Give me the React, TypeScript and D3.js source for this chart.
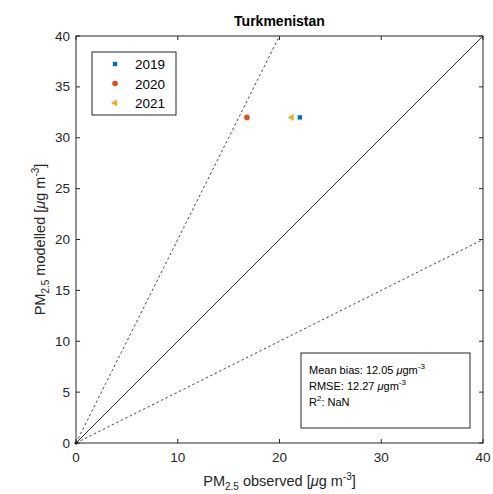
import React from "react";
import * as d3 from "d3";

const years = ["2019", "2020", "2021"];
const observed = [22.0, 16.8, 21.2];
const modelled = [32.0, 32.0, 32.0];
const colors = ["#0072BD", "#D95319", "#EDB120"];
const xTicks = [0, 10, 20, 30, 40];
const yTicks = [0, 5, 10, 15, 20, 25, 30, 35, 40];
const stats = { bias: "12.05", rmse: "12.27", r2: "NaN" };

const W = 493;
const H = 494;
const m = { left: 76, top: 36, right: 10, bottom: 51 };
const font = "Liberation Sans, Arial, sans-serif";

const App = () => {
  const x = d3.scaleLinear().domain([0, 40]).range([m.left, W - m.right]);
  const y = d3.scaleLinear().domain([0, 40]).range([H - m.bottom, m.top]);
  const line = d3.line<[number, number]>().x((d) => x(d[0])).y((d) => y(d[1]));
  const tri = d3.symbol().type(d3.symbolTriangle).size(22)();

  const marker = (i: number, cx: number, cy: number) => {
    if (i === 0) return <rect x={cx - 2.2} y={cy - 2.2} width={4.4} height={4.4} fill={colors[i]} />;
    if (i === 1) return <circle cx={cx} cy={cy} r={2.8} fill={colors[i]} />;
    return <path d={tri || ""} transform={`translate(${cx},${cy}) rotate(-90)`} fill={colors[i]} />;
  };

  const x0 = x(0), x1 = x(40), y0 = y(0), y1 = y(40);

  return (
    <svg width={W} height={H} style={{ position: "absolute", left: 0, top: 0 }} fontFamily={font}>
      <rect x={0} y={0} width={W} height={H} fill="#fff" />
      <path d={line([[0, 0], [20, 40]]) || ""} stroke="#444" strokeDasharray="2.5,2.5" fill="none" />
      <path d={line([[0, 0], [40, 20]]) || ""} stroke="#444" strokeDasharray="2.5,2.5" fill="none" />
      <path d={line([[0, 0], [40, 40]]) || ""} stroke="#333" fill="none" />
      <circle cx={x0} cy={y0} r={1.5} fill="#000" />
      {observed.map((o, i) => (
        <g key={years[i]}>{marker(i, x(o), y(modelled[i]))}</g>
      ))}
      <rect x={x0} y={y1} width={x1 - x0} height={y0 - y1} fill="none" stroke="#262626" strokeWidth={1} />
      {xTicks.map((t) => (
        <g key={"x" + t}>
          <line x1={x(t)} x2={x(t)} y1={y0} y2={y0 - 4} stroke="#262626" />
          <line x1={x(t)} x2={x(t)} y1={y1} y2={y1 + 4} stroke="#262626" />
          <text x={x(t)} y={y0 + 19} textAnchor="middle" fontSize={13.5} fill="#262626">{t}</text>
        </g>
      ))}
      {yTicks.map((t) => (
        <g key={"y" + t}>
          <line x1={x0} x2={x0 + 4} y1={y(t)} y2={y(t)} stroke="#262626" />
          <line x1={x1} x2={x1 - 4} y1={y(t)} y2={y(t)} stroke="#262626" />
          <text x={x0 - 6} y={y(t) + 4.5} textAnchor="end" fontSize={13.5} fill="#262626">{t}</text>
        </g>
      ))}
      <text x={(x0 + x1) / 2} y={26} textAnchor="middle" fontSize={14} fontWeight="bold" fill="#000">Turkmenistan</text>
      <text x={(x0 + x1) / 2} y={486} textAnchor="middle" fontSize={14.5} fill="#262626">
        PM<tspan fontSize={10} dy={4}>2.5</tspan><tspan dy={-4}> observed [</tspan><tspan fontStyle="italic">μ</tspan>g m<tspan fontSize={10} dy={-6}>-3</tspan><tspan dy={6}>]</tspan>
      </text>
      <text transform={`translate(45,${(y0 + y1) / 2}) rotate(-90)`} textAnchor="middle" fontSize={14.5} fill="#262626">
        PM<tspan fontSize={10} dy={4}>2.5</tspan><tspan dy={-4}> modelled [</tspan><tspan fontStyle="italic">μ</tspan>g m<tspan fontSize={10} dy={-6}>-3</tspan><tspan dy={6}>]</tspan>
      </text>
      <rect x={92} y={52} width={84} height={63} fill="#fff" stroke="#262626" />
      {years.map((yr, i) => (
        <g key={"l" + yr}>
          {marker(i, 115, 64 + i * 19.5)}
          <text x={135} y={69 + i * 19.5} fontSize={13.5} fill="#000">{yr}</text>
        </g>
      ))}
      <rect x={301} y={353} width={169} height={75} fill="#fff" stroke="#262626" />
      <text x={309} y={374} fontSize={11} fill="#000">
        Mean bias: {stats.bias} <tspan fontStyle="italic">μ</tspan>gm<tspan fontSize={8} dy={-5}>-3</tspan>
      </text>
      <text x={309} y={390} fontSize={11} fill="#000">
        RMSE: {stats.rmse} <tspan fontStyle="italic">μ</tspan>gm<tspan fontSize={8} dy={-5}>-3</tspan>
      </text>
      <text x={309} y={406} fontSize={11} fill="#000">
        R<tspan fontSize={8} dy={-5}>2</tspan><tspan dy={5}>: {stats.r2}</tspan>
      </text>
    </svg>
  );
};

export default App;
